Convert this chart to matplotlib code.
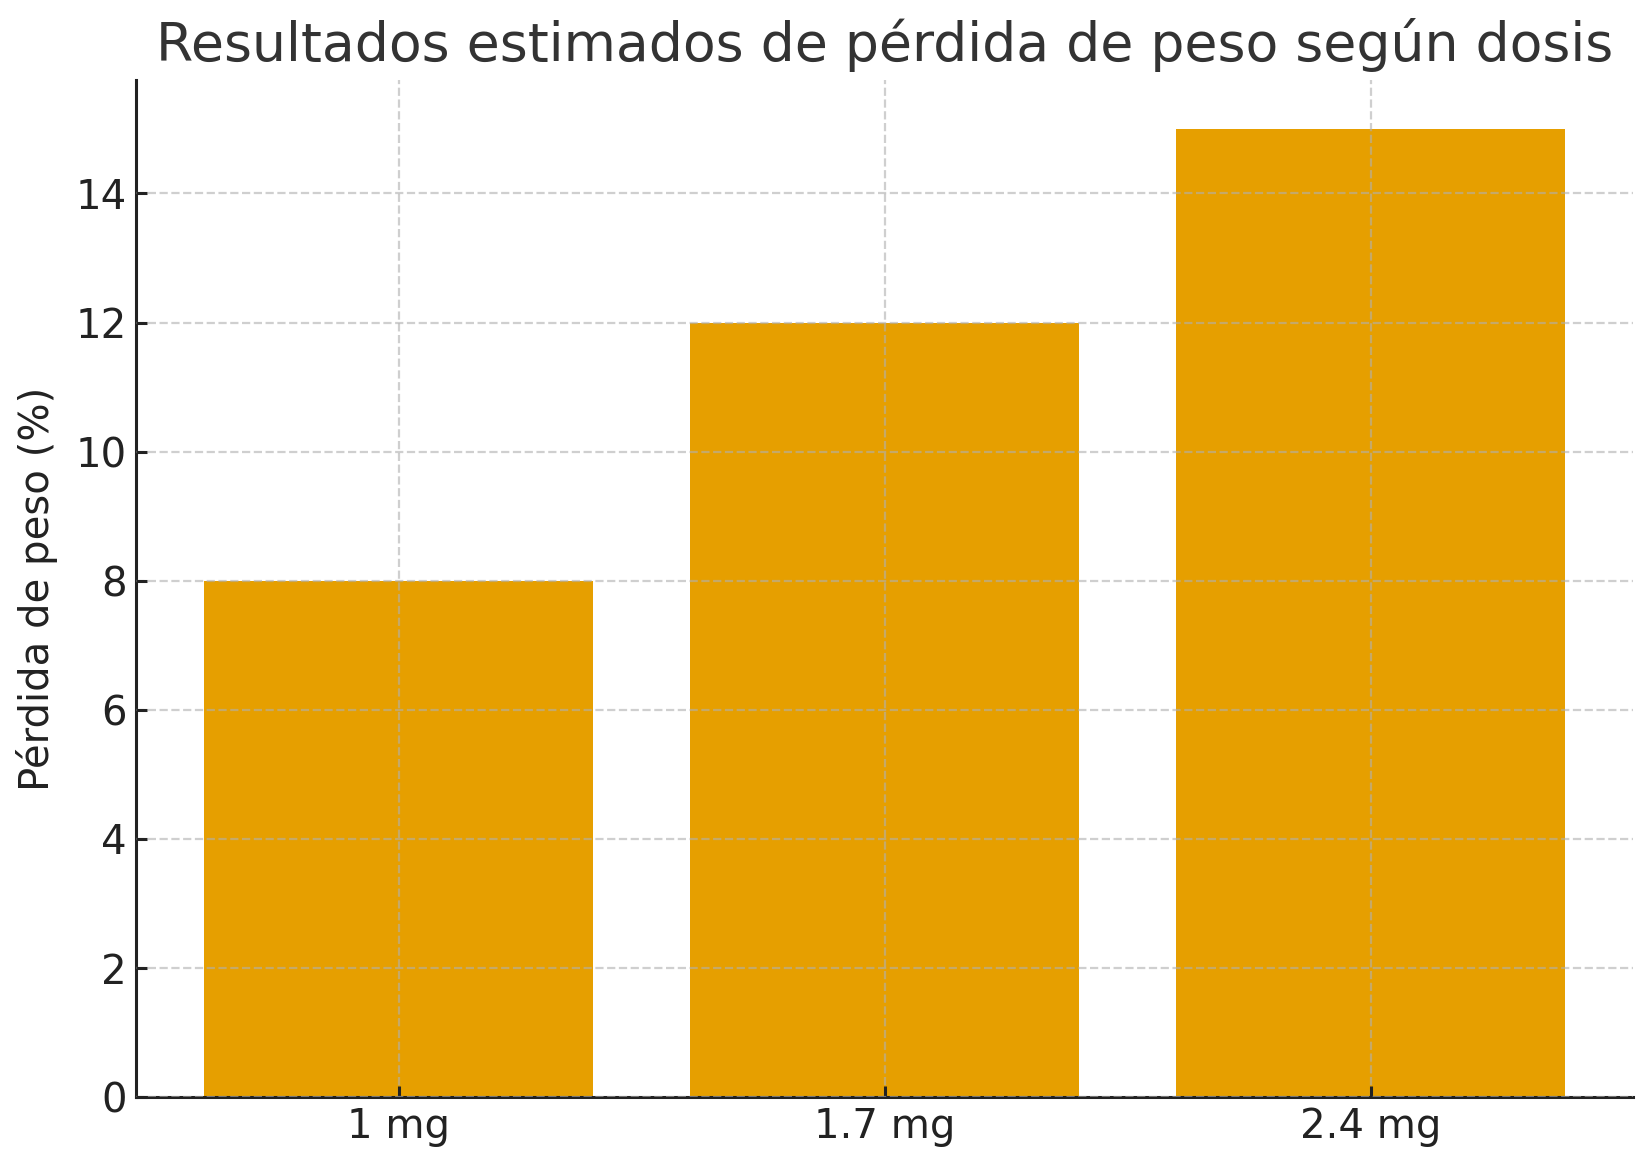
import matplotlib.pyplot as plt

# Data
doses = ['1 mg', '1.7 mg', '2.4 mg']
weight_loss = [8, 12, 15]

plt.rcParams['font.family'] = 'DejaVu Sans'

fig = plt.figure(figsize=(8.2, 5.83), dpi=200)
ax = fig.add_axes([0.083, 0.059, 0.913, 0.872])

ax.bar(doses, weight_loss, color='#E69F00', width=0.8)

ax.set_title('Resultados estimados de pérdida de peso según dosis',
             fontsize=19.3, color='#333333', pad=7)
ax.set_ylabel('Pérdida de peso (%)', fontsize=14.5, color='#222222', labelpad=6)

ax.tick_params(axis='both', direction='in', length=4, width=1.1,
               labelsize=14.5, labelcolor='#222222', color='#222222')
ax.set_yticks([0, 2, 4, 6, 8, 10, 12, 14])

for side in ['top', 'right']:
    ax.spines[side].set_visible(False)
for side in ['left', 'bottom']:
    ax.spines[side].set_linewidth(1.1)
    ax.spines[side].set_color('#222222')

ax.set_axisbelow(False)
ax.grid(True, linestyle='--', linewidth=0.8, color='#b0b0b0', alpha=0.6)

fig.savefig('out.png', dpi=200)
